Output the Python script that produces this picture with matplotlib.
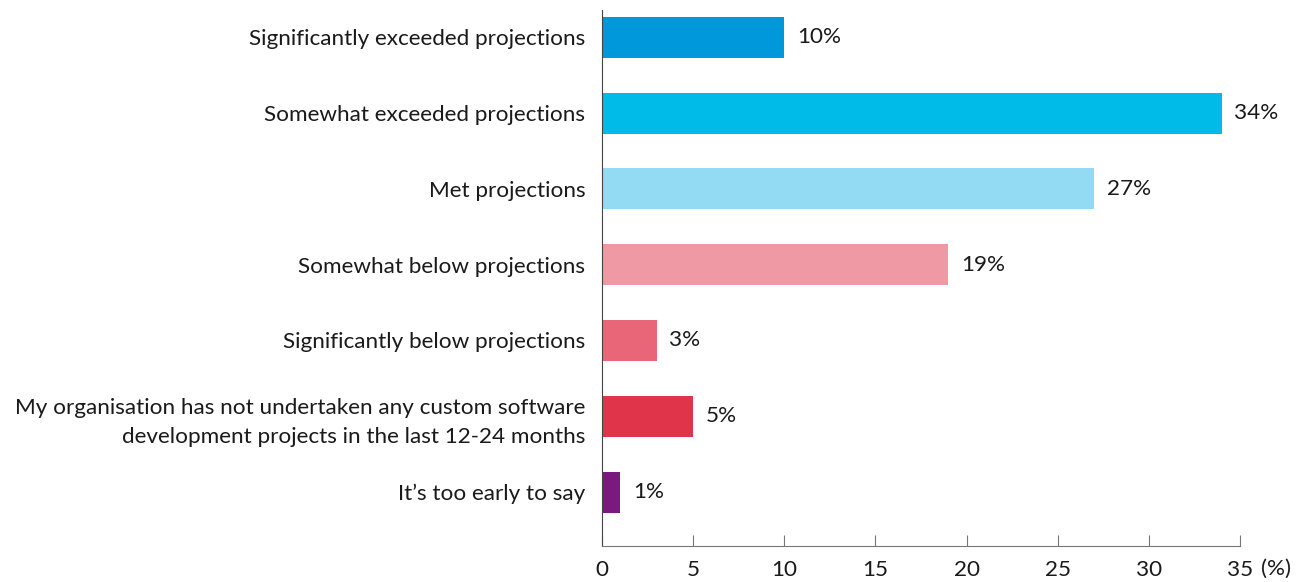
import matplotlib.pyplot as plt

# Survey responses: how custom software projects performed vs projections
categories = [
    'Significantly exceeded projections',
    'Somewhat exceeded projections',
    'Met projections',
    'Somewhat below projections',
    'Significantly below projections',
    'My organisation has not undertaken any custom software\ndevelopment projects in the last 12-24 months',
    'It\u2019s too early to say',
]
values = [10, 34, 27, 19, 3, 5, 1]
colors = ['#0098DA', '#00BAE7', '#93DBF3', '#EF99A4', '#E86677', '#E0344A', '#7A1A7E']
ticks = [0, 5, 10, 15, 20, 25, 30, 35]

plt.rcParams['font.family'] = ['Lato', 'DejaVu Sans']
fs = 16.2

fig = plt.figure(figsize=(13.05, 5.82), dpi=100)
ax = fig.add_axes([0.4613, 0.062, 0.4889, 0.9208])

y = range(len(categories))
ax.barh(y, values, height=0.54, color=colors)

for yi, v in zip(y, values):
    ax.annotate(f'{v}%', xy=(v, yi), xytext=(9, 0), textcoords='offset points',
                va='center', ha='left', fontsize=fs, color='#1a1a1a')

ax.set_yticks(list(y))
ax.set_yticklabels(categories, fontsize=fs, color='#1a1a1a', linespacing=1.55)
ax.set_ylim(6.71, -0.36)
ax.set_xlim(0, 35)
ax.set_xticks(ticks)
ax.set_xticklabels([str(t) for t in ticks], fontsize=fs, color='#1a1a1a')

ax.annotate('(%)', xy=(35, 0), xycoords=('data', 'axes fraction'),
            xytext=(15, -9), textcoords='offset points',
            ha='left', va='top', fontsize=fs, color='#1a1a1a')

for side in ['top', 'right']:
    ax.spines[side].set_visible(False)
ax.spines['left'].set_color('#444444')
ax.spines['bottom'].set_color('#777777')
ax.tick_params(axis='y', length=0, pad=12)
ax.tick_params(axis='x', direction='in', length=8, color='#777777', pad=10)

fig.savefig('out.png', dpi=100)
